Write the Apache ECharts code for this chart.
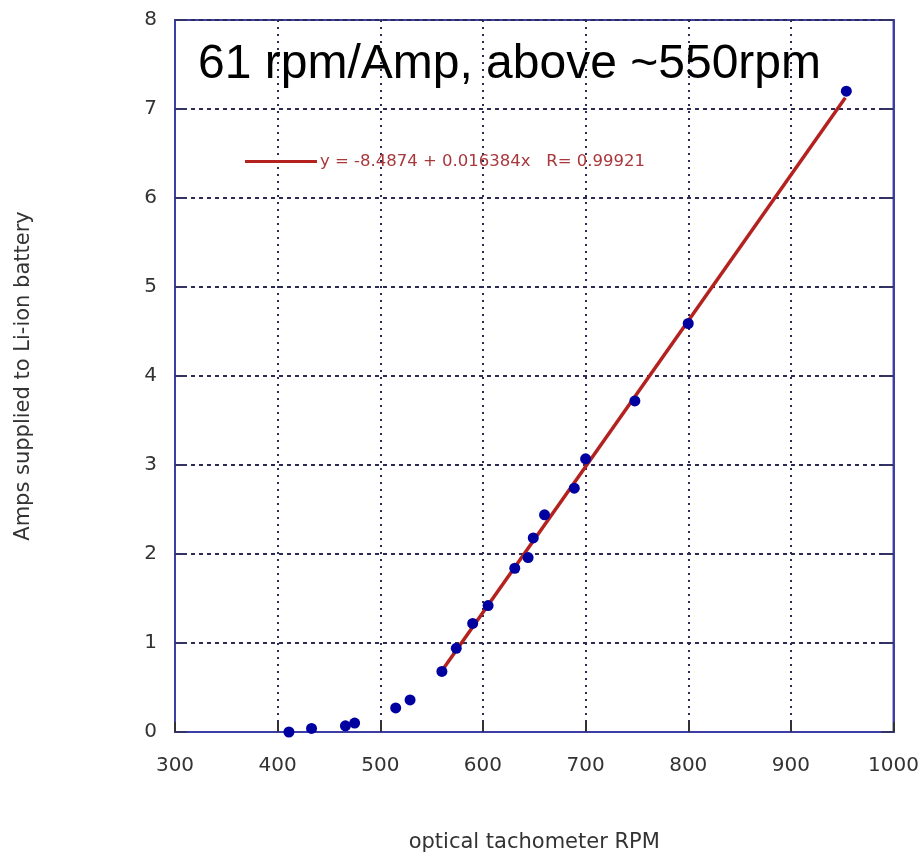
<!DOCTYPE html>
<html>
<head>
<meta charset="utf-8">
<script src="https://cdn.jsdelivr.net/npm/echarts@6/dist/echarts.min.js"></script>
<style>
html,body{margin:0;padding:0;background:#fff;overflow:hidden;}
#chart{width:922px;height:858px;}
</style>
</head>
<body>
<div id="chart"></div>
<script>
// Measured points (RPM, Amps)
const rpmValues  = [411, 433, 466, 475, 515, 529, 560, 574, 590, 605, 631, 644, 649, 660, 689, 700, 748, 800, 954];
const ampValues  = [0.00, 0.04, 0.07, 0.10, 0.27, 0.36, 0.68, 0.94, 1.22, 1.42, 1.84, 1.96, 2.18, 2.44, 2.74, 3.07, 3.72, 4.59, 7.20];
// Linear fit
const fitIntercept = -8.4874;
const fitSlope = 0.016384;
const fitRange = [560, 953];
const fitLabel = 'y = -8.4874 + 0.016384x   R= 0.99921';
const titleText = '61 rpm/Amp, above ~550rpm';
const xTicks = [300, 400, 500, 600, 700, 800, 900, 1000];
const yTicks = [0, 1, 2, 3, 4, 5, 6, 7, 8];

const scatterData = rpmValues.map((x, i) => [x, ampValues[i]]);
const fitData = fitRange.map(x => [x, fitIntercept + fitSlope * x]);

const axisBlue = '#3d3da8';
const gridColor = '#2b2b55';
const labelFont = {fontFamily: 'DejaVu Sans', fontSize: 20, color: '#333'};

const chart = echarts.init(document.getElementById('chart'));
chart.setOption({
  animation: false,
  backgroundColor: '#fff',
  title: {
    text: titleText, left: 198, top: 41, padding: 0,
    textStyle: {fontFamily: 'Liberation Sans', fontSize: 48, fontWeight: 'normal', color: '#000'}
  },
  legend: {
    data: [fitLabel], left: 245, top: 153, padding: 0,
    itemWidth: 72, itemHeight: 3, icon: 'rect', itemGap: 4,
    textStyle: {fontFamily: 'DejaVu Sans', fontSize: 16.5, color: '#a8383c', padding: [0,0,0,-2]}
  },
  grid: {left: 175, right: 24, top: 20, bottom: 117, show: true, borderColor: axisBlue, borderWidth: 2, backgroundColor: '#fff'},
  xAxis: {
    type: 'value', min: xTicks[0], max: xTicks[xTicks.length-1], interval: 100,
    name: 'optical tachometer RPM', nameLocation: 'middle', nameGap: 100,
    nameTextStyle: {fontFamily: 'DejaVu Sans', fontSize: 21, color: '#333'},
    axisLine: {show: true, lineStyle: {color: axisBlue, width: 2}},
    axisTick: {show: true, inside: true, length: 10, lineStyle: {color: '#333', width: 2}},
    axisLabel: Object.assign({margin: 24, formatter: v => String(v)}, labelFont),
    splitLine: {show: true, lineStyle: {color: gridColor, width: 2, type: [2, 5]}}
  },
  yAxis: [{
    type: 'value', min: yTicks[0], max: yTicks[yTicks.length-1], interval: 1,
    name: 'Amps supplied to Li-ion battery', nameLocation: 'middle', nameGap: 141, nameRotate: 90,
    nameTextStyle: {fontFamily: 'DejaVu Sans', fontSize: 21, color: '#333'},
    axisLine: {show: true, lineStyle: {color: axisBlue, width: 2}},
    axisTick: {show: true, inside: true, length: 12, lineStyle: {color: '#333366', width: 2}},
    axisLabel: Object.assign({margin: 18}, labelFont),
    splitLine: {show: true, lineStyle: {color: gridColor, width: 2, type: [4, 4]}}
  }, {
    type: 'value', min: yTicks[0], max: yTicks[yTicks.length-1], interval: 1, position: 'right',
    axisLine: {show: true, lineStyle: {color: axisBlue, width: 2}},
    axisTick: {show: true, inside: true, length: 12, lineStyle: {color: '#333366', width: 2}},
    axisLabel: {show: false}, splitLine: {show: false}
  }],
  series: [{
    name: fitLabel, type: 'line', data: fitData, symbol: 'none',
    lineStyle: {color: '#b3221f', width: 3.5}, itemStyle: {color: '#b3221f'}, z: 2
  }, {
    name: 'data', type: 'scatter', data: scatterData, symbolSize: 11,
    itemStyle: {color: '#0000a0', opacity: 1}, z: 3
  }]
});
</script>
</body>
</html>
